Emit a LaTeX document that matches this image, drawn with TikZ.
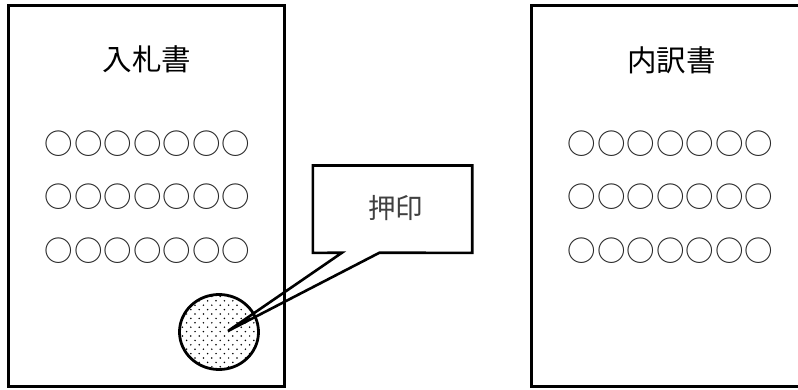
\documentclass[tikz,border=0pt]{standalone}
\usepackage{fontspec}
\usetikzlibrary{shapes.geometric}
\newfontfamily\cjk{Noto Sans CJK JP}
\newfontfamily\cjkspaced[LetterSpace=3.5]{Noto Sans CJK JP}
\tikzset{
  sheet/.style={draw=black,line width=3pt,fill=white},
  heading/.style={font=\cjk\fontsize{29.5}{30}\selectfont,inner sep=0pt},
  body/.style={font=\cjkspaced\fontsize{28.5}{29}\selectfont,inner sep=0pt,text=black!85},
  stamplabel/.style={font=\cjk\fontsize{27.5}{28}\selectfont,inner sep=0pt,text=black!75},
  outline/.style={draw=black,line width=2.6pt,line join=miter},
  sealshape/.style={ellipse,draw=black,line width=2.8pt,inner sep=0pt,minimum width=79pt,minimum height=75pt},
  boxframe/.style={inner sep=0pt,minimum width=159pt,minimum height=87pt},
}
\begin{document}
\begin{tikzpicture}[x=1pt,y=-1pt]
\useasboundingbox (0,0) rectangle (798,390);
\path[sheet] (8.7,6) rectangle (284,386);
\path[sheet] (798,6) -- (531,6) -- (531,386) -- (798,386);
\node[heading] (ta) at (147,59) {入札書};
\node[heading] (tb) at (671.5,60) {内訳書};
\foreach \n/\y in {1/144,2/197,3/251}{
  \node[body] (l\n) at (147.5,\y) {○○○○○○○};
  \node[body] (r\n) at (670.5,\y) {○○○○○○○};
}
\begin{scope}
  \clip (219,332) ellipse [x radius=39.5, y radius=37.5];
  \foreach \r in {0,...,19}{
    \foreach \c in {0,...,10}{
      \pgfmathsetmacro{\px}{174+\c*8.4+mod(\r,2)*4.2}
      \pgfmathsetmacro{\py}{292+\r*4.4}
      \fill[black] (\px,\py) circle (0.85);
    }
  }
\end{scope}
\node[sealshape] (seal) at (219,332) {};
\node[boxframe] (c) at (392.5,209.2) {};
\node[stamplabel] (lab) at (395.5,208) {押印};
\coordinate (tip) at (228,331);
\coordinate (tl) at (342,252.7);
\coordinate (tr) at (379.5,252.7);
\draw[outline] (tl) -- (tip) -- (tr) -- (c.south east) -- (c.north east) -- (c.north west) -- (c.south west) -- cycle;
\end{tikzpicture}
\end{document}
